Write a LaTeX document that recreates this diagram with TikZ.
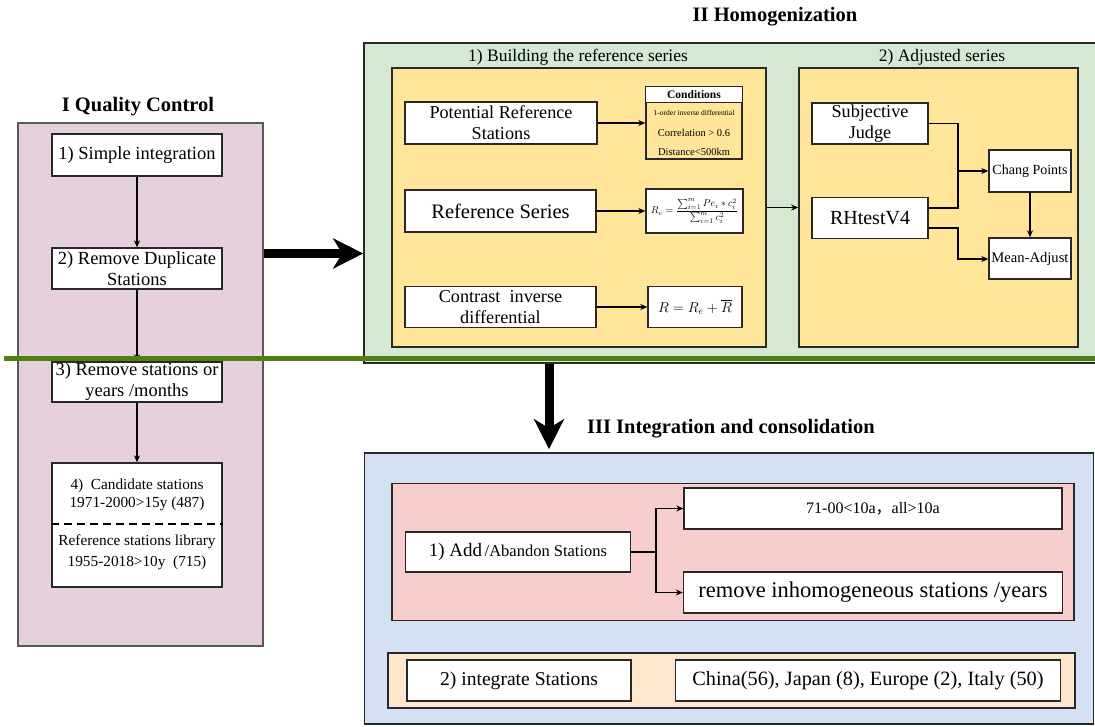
\documentclass[tikz,border=0pt]{standalone}
\usepackage{amsmath}
\usepackage{fontspec}
\setmainfont{Liberation Serif}
\newfontfamily\cjkfont{Noto Sans CJK SC}
\usetikzlibrary{arrows.meta}
\definecolor{qcfill}{RGB}{230,208,222}
\definecolor{homfill}{RGB}{213,232,212}
\definecolor{yel}{RGB}{255,229,154}
\definecolor{intfill}{RGB}{212,225,243}
\definecolor{pinkfill}{RGB}{248,206,204}
\definecolor{peach}{RGB}{255,230,204}
\definecolor{sepgreen}{RGB}{80,128,16}
\definecolor{edge}{RGB}{40,40,40}
\newcommand{\fs}[1]{\pgfmathsetlengthmacro\fslskip{#1*1.14}\fontsize{#1}{\fslskip}\selectfont}
\tikzset{
  wbox/.style={draw=edge, line width=1.4pt, fill=white, inner sep=0pt, align=center},
  grp/.style={draw=edge, line width=1.6pt, inner sep=0pt},
  arr/.style={-{Stealth[length=7pt,width=6pt]}, line width=1.1pt},
  bigarr/.style={line width=9pt, -{Stealth[length=30pt,width=30pt,inset=9pt]}},
  ttl/.style={inner sep=0pt, font=\bfseries\fs{20.5}},
  sub/.style={inner sep=0pt, font=\fs{17.5}},
}
\begin{document}
\begin{tikzpicture}[x=1pt,y=-1pt]
\useasboundingbox (0,0) rectangle (1095,726);

% ---------- I Quality Control ----------
\node[ttl] (tq) at (138,107) {I Quality Control};
\node[grp, draw=black!65, fill=qcfill, minimum width=245, minimum height=523] (boxI) at (140.5,384.5) {};
\node[wbox, minimum width=170, minimum height=42, font=\fs{18.5}] (n1) at (137,155) {1) Simple integration};
\node[wbox, minimum width=170, minimum height=41, font=\fs{18.5}] (n2) at (137,268.5) {2) Remove Duplicate\\Stations};
\node[wbox, minimum width=170, minimum height=40, font=\fs{18.5}] (n3) at (137,382) {3) Remove stations or\\years /months};
\node[wbox, minimum width=170, minimum height=124] (n4) at (137,525) {};
\node[inner sep=0pt, font=\fs{15.3}] (n4a) at (137,486) {4)\ \ Candidate stations};
\node[inner sep=0pt, font=\fs{15.3}] (n4b) at (137,504) {1971-2000>15y (487)};
\node[inner sep=0pt, font=\fs{15.3}] (n4c) at (137,542) {Reference stations library};
\node[inner sep=0pt, font=\fs{15.3}] (n4d) at (137,563) {1955-2018>10y\ \ (715)};
\draw[line width=2.2pt, dash pattern=on 8pt off 5pt] (n4.west |- 0,524) -- (n4.east |- 0,524);
\draw[arr] (n1.south) -- (n2.north);
\draw[arr] (n2.south) -- (n3.north);
\draw[arr] (n3.south) -- (n4.north);

% ---------- II Homogenization ----------
\node[ttl] (th) at (775,17) {II Homogenization};
\node[grp, fill=homfill, minimum width=733, minimum height=320] (boxII) at (730.5,203) {};
\node[sub] (ta) at (578,57) {1) Building the reference series};
\node[sub] (tb) at (942,57) {2) Adjusted series};
\node[grp, fill=yel, minimum width=374, minimum height=279] (ya) at (579,207.5) {};
\node[grp, fill=yel, minimum width=279, minimum height=279] (yb) at (938.5,207.5) {};

\node[wbox, minimum width=192, minimum height=42, font=\fs{18.2}] (pot) at (501,123) {Potential Reference\\Stations};
\node[wbox, fill=yel, minimum width=96, minimum height=72] (cond) at (694,123) {};
\fill[white] ([shift={(0.7pt,-0.7pt)}]cond.north west) rectangle ([shift={(-0.7pt,-16pt)}]cond.north east);
\draw[edge, line width=1.1pt] ([yshift=-16pt]cond.north west) -- ([yshift=-16pt]cond.north east);
\node[inner sep=0pt, font=\bfseries\fs{11.5}] (c0) at (694,95) {Conditions};
\node[inner sep=0pt, font=\fs{7.5}] (c1) at (694,113) {1-order inverse differential};
\node[inner sep=0pt, font=\fs{10.5}] (c2) at (694,133) {Correlation > 0.6};
\node[inner sep=0pt, font=\fs{10.5}] (c3) at (694,152) {Distance<500km};

\node[wbox, minimum width=191, minimum height=42, font=\fs{20.5}] (ref) at (500.5,211) {Reference Series};
\node[wbox, minimum width=97, minimum height=44, font=\fs{10}] (frm) at (694.5,211) {$R_e=\dfrac{\sum_{i=1}^{m}Pe_i*c_i^2}{\sum_{i=1}^{m}c_i^2}$};
\node[wbox, minimum width=191, minimum height=41, font=\fs{18.2}] (con) at (500.5,307) {Contrast\ \ inverse\\differential};
\node[wbox, minimum width=94, minimum height=41, font=\fs{14.5}] (rr) at (695,307) {$R=R_e+\overline{R}$};
\draw[arr] (pot.east) -- (pot.east -| cond.west);
\draw[arr] (ref.east) -- (ref.east -| frm.west);
\draw[arr] (con.east) -- (con.east -| rr.west);

\node[wbox, minimum width=116, minimum height=41, font=\fs{18.2}] (sj) at (870,123.5) {Subjective\\Judge};
\node[wbox, minimum width=116, minimum height=41, font=\fs{20}] (rh) at (870,218) {RHtestV4};
\node[wbox, minimum width=82, minimum height=42, font=\fs{14}] (cp) at (1030,171) {Chang Points};
\node[wbox, minimum width=82, minimum height=41, font=\fs{14.6}] (ma) at (1030,258.5) {Mean-Adjust};
\coordinate (jc) at (958,171);
\coordinate (jm) at (958,259);
\draw[line width=1.1pt] (sj.east) -| (jc);
\draw[line width=1.1pt] ([yshift=10pt]rh.east) -| (jc);
\draw[arr] (jc) -- (cp.west |- jc);
\draw[arr] ([yshift=-10pt]rh.east) -| (jm) -- (ma.west |- jm);
\draw[arr] (cp.south) -- (ma.north);
\draw[arr] (ya.east) -- (yb.west);

% ---------- III Integration and consolidation ----------
\node[ttl] (ti) at (731,429) {III Integration and consolidation};
\node[grp, fill=intfill, minimum width=729, minimum height=271] (boxIII) at (729,588.5) {};
\node[grp, fill=pinkfill, minimum width=682, minimum height=137] (pk) at (733,552) {};
\node[wbox, minimum width=225, minimum height=40] (add) at (518,552) {{\fs{19}1) Add} {\fs{16.5}/Abandon Stations}};
\node[wbox, minimum width=378, minimum height=41, font=\fs{16}] (c71) at (873,508.5) {71-00<10a{\cjkfont ，}all>10a};
\node[wbox, minimum width=379, minimum height=41, font=\fs{22.5}] (rm) at (873,592.5) {remove inhomogeneous stations /years};
\coordinate (ja) at (656,552);
\draw[line width=1.1pt] (add.east) -- (ja);
\draw[arr] (ja) |- (c71.west);
\draw[arr] (ja) |- (rm.west);
\node[grp, fill=peach, minimum width=687, minimum height=55] (pc) at (731.5,680.5) {};
\node[wbox, minimum width=224, minimum height=41, font=\fs{19.6}] (ig) at (519,680.5) {2) integrate Stations};
\node[wbox, minimum width=385, minimum height=41, font=\fs{20.3}] (cn) at (868,680.5) {China(56), Japan (8), Europe (2), Italy (50)};

% ---------- flow between stages ----------
\coordinate (qy) at (0,253.5);
\coordinate (dx) at (549,0);
\draw[bigarr] (boxI.east |- qy) -- (boxII.west |- qy);
\draw[bigarr] (boxII.south -| dx) -- ([yshift=3pt]boxIII.north -| dx);

% separator line across the page
\draw[sepgreen, line width=5pt] (4,358.5) -- (1095,358.5);
\end{tikzpicture}
\end{document}
